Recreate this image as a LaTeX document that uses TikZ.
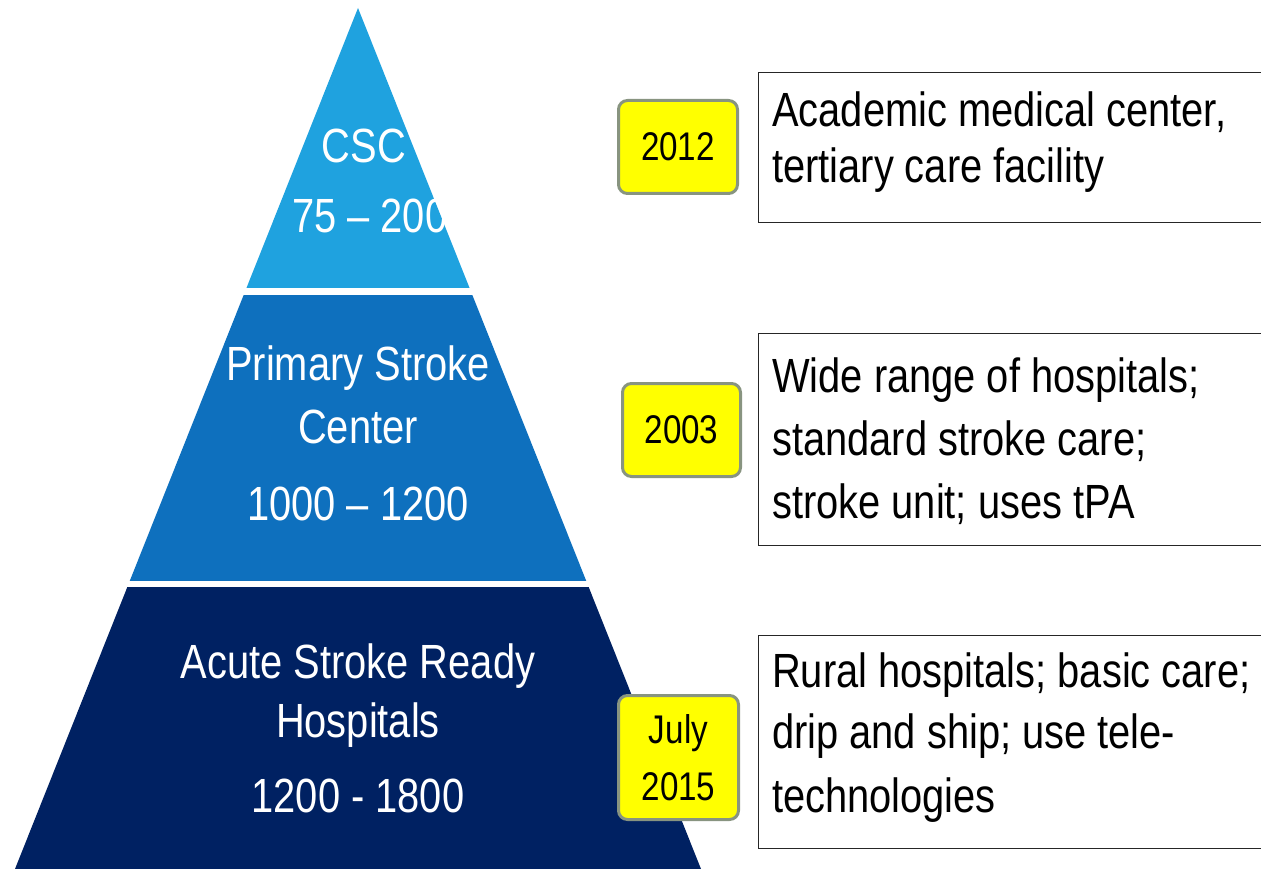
\documentclass[tikz,border=0pt]{standalone}
\usepackage{fontspec}
\setmainfont[FakeStretch=0.83]{Liberation Sans}
\definecolor{cscblue}{RGB}{31,162,223}
\definecolor{pscblue}{RGB}{14,112,190}
\definecolor{asrblue}{RGB}{0,33,98}
\definecolor{tagfill}{RGB}{255,255,0}
\definecolor{tagedge}{RGB}{136,148,128}
\begin{document}
\begin{tikzpicture}[x=1pt,y=-1pt,
  tiertext/.style={text=white,inner sep=0pt,anchor=base,font=\fontsize{48}{56}\selectfont},
  desctext/.style={text=black,inner sep=0pt,anchor=base west,font=\fontsize{48}{56}\selectfont},
  descbox/.style={draw=black!85,line width=1.3pt,fill=white,anchor=north west,inner sep=0pt},
  yeartag/.style={draw=tagedge,line width=3pt,fill=tagfill,rounded corners=9pt,
    inner sep=0pt,align=center,font=\fontsize{40}{57}\selectfont}]
\useasboundingbox (0,0) rectangle (1261,869);
\clip (0,0) rectangle (1261,869);
\fill[white] (0,0) rectangle (1261,869);

% pyramid: one triangle cut into three bands by white gaps
\begin{scope}
  \clip (358,8) -- (15,869) -- (701,869) -- cycle;
  \fill[cscblue] (0,0) rectangle (720,288);
  \fill[pscblue] (0,295) rectangle (720,581);
  \fill[asrblue] (0,587) rectangle (720,869);
\end{scope}

% tier labels
\node[tiertext] (csc) at (364,163) {CSC};
\node[tiertext,anchor=base west] (cscn) at (292,233) {75 – 200};
\node[tiertext] (psc1) at (358,380) {Primary Stroke};
\node[tiertext] (psc2) at (358,443) {Center};
\node[tiertext] (pscn) at (358,520) {1000 – 1200};
\node[tiertext] (asr1) at (358,678) {Acute Stroke Ready};
\node[tiertext] (asr2) at (358,737) {Hospitals};
\node[tiertext] (asrn) at (358,812) {1200 - 1800};

% description boxes, running off the right edge
\node[descbox,minimum width=520pt,minimum height=150pt] (d1) at (758,72) {};
\node[descbox,minimum width=520pt,minimum height=212pt] (d2) at (758,333) {};
\node[descbox,minimum width=520pt,minimum height=213pt] (d3) at (758,635) {};

\node[desctext] (d1a) at (772,127) {Academic medical center,};
\node[desctext] (d1b) at (772,183) {tertiary care facility};
\node[desctext] (d2a) at (772,392) {Wide range of hospitals;};
\node[desctext] (d2b) at (772,455) {standard stroke care;};
\node[desctext] (d2c) at (772,518) {stroke unit; uses tPA};
\node[desctext] (d3a) at (772,687) {Rural hospitals; basic care;};
\node[desctext] (d3b) at (772,748) {drip and ship; use tele-};
\node[desctext] (d3c) at (772,812) {technologies};

% year tags
\node[yeartag,minimum width=119pt,minimum height=93pt] (y1) at (678,147) {2012};
\node[yeartag,minimum width=118pt,minimum height=93pt] (y2) at (681.5,430) {2003};
\node[yeartag,minimum width=120pt,minimum height=124pt] (y3) at (678.5,757.5) {July\\2015};
\end{tikzpicture}
\end{document}
